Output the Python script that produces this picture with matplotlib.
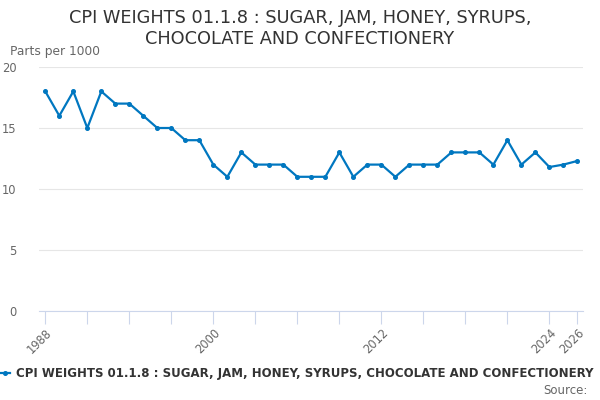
import matplotlib.pyplot as plt
import numpy as np

years = np.arange(1988, 2027)
weights = [18, 16, 18, 15, 18, 17, 17, 16, 15, 15, 14, 14, 12, 11, 13, 12, 12, 12, 11, 11,
           11, 13, 11, 12, 12, 11, 12, 12, 12, 13, 13, 13, 12, 14, 12, 13, 11.8, 12.0, 12.3]
label_years = [1988, 2000, 2012, 2024, 2026]
tick_years = list(range(1988, 2025, 3)) + [2026]
yticks = [0, 5, 10, 15, 20]

series_name = "CPI WEIGHTS 01.1.8 : SUGAR, JAM, HONEY, SYRUPS, CHOCOLATE AND CONFECTIONERY"
blue = "#0077c0"
grey = "#666666"

fig = plt.figure(figsize=(6, 4), dpi=100)
ax = fig.add_axes([39 / 600, 1 - 311 / 400, (583 - 39) / 600, (311 - 67) / 400])

ax.plot(years, weights, color=blue, lw=1.6, marker="o", ms=2.6, zorder=3)

ax.set_xlim(1987.55, 2026.4)
ax.set_ylim(0, 20)

ax.set_yticks(yticks)
ax.set_yticklabels([str(v) for v in yticks], color=grey, fontsize=8.3)
ax.tick_params(axis="y", length=0, pad=16)
ax.grid(axis="y", color="#e6e6e6", lw=0.8)
ax.set_axisbelow(True)

ax.set_xticks(tick_years)
ax.set_xticklabels([str(y) if y in label_years else "" for y in tick_years],
                   rotation=45, ha="right", rotation_mode="anchor", color=grey, fontsize=8.3)
ax.tick_params(axis="x", length=9, color="#ccd6eb", pad=2)

for s in ["top", "right", "left"]:
    ax.spines[s].set_visible(False)
ax.spines["bottom"].set_color("#ccd6eb")

fig.text(0.5, 1 - 18 / 400, "CPI WEIGHTS 01.1.8 : SUGAR, JAM, HONEY, SYRUPS,", ha="center", va="center",
         fontsize=12.8, color="#333333")
fig.text(0.5, 1 - 39 / 400, "CHOCOLATE AND CONFECTIONERY", ha="center", va="center",
         fontsize=12.8, color="#333333")
fig.text(10 / 600, 1 - 52 / 400, "Parts per 1000", ha="left", va="center", fontsize=8.8, color=grey)

# legend drawn by hand, running almost to the right edge like the original
fig.lines.append(plt.Line2D([0, 10 / 600], [1 - 373 / 400] * 2, transform=fig.transFigure,
                            color=blue, lw=1.6))
fig.lines.append(plt.Line2D([5 / 600], [1 - 373 / 400], transform=fig.transFigure,
                            color=blue, marker="o", ms=2.6))
fig.text(16 / 600, 1 - 373 / 400, series_name, ha="left", va="center", fontsize=8.5,
         fontweight="bold", color="#333333")
fig.text(588 / 600, 1 - 390 / 400, "Source:", ha="right", va="center", fontsize=8.5, color=grey)

fig.savefig("out.png", dpi=100)
